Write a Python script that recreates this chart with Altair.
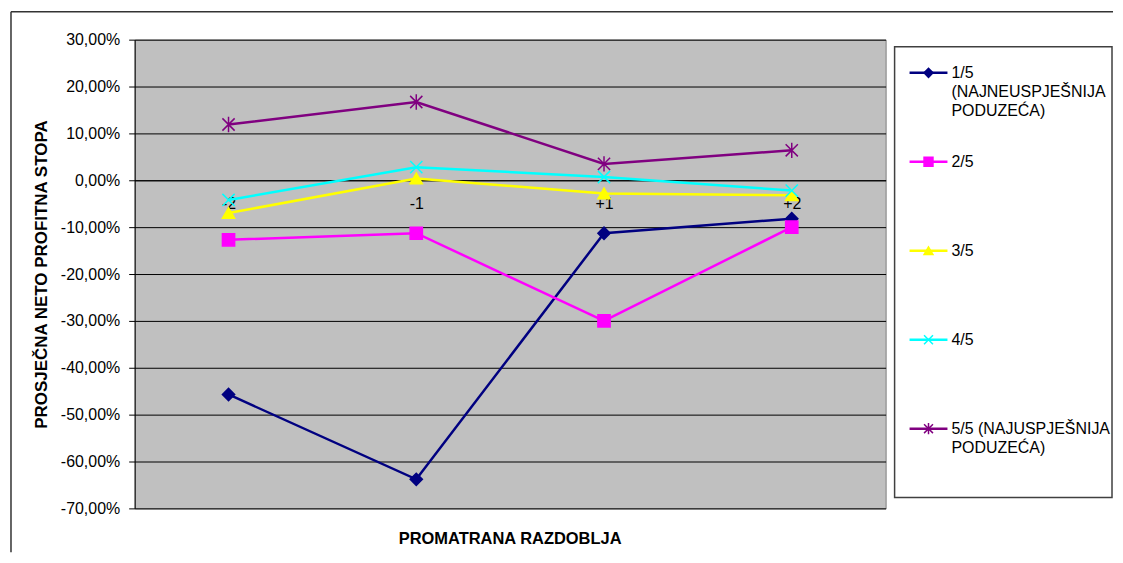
import altair as alt
import pandas as pd

periods = ["-2", "-1", "+1", "+2"]
series = ["1/5", "2/5", "3/5", "4/5", "5/5"]
legend_labels = [
    "1/5\n(NAJNEUSPJEŠNIJA\nPODUZEĆA)",
    "2/5",
    "3/5",
    "4/5",
    "5/5 (NAJUSPJEŠNIJA\nPODUZEĆA)",
]
s1 = [-0.457, -0.638, -0.113, -0.082]
s2 = [-0.127, -0.113, -0.300, -0.100]
s3 = [-0.070, 0.004, -0.028, -0.032]
s4 = [-0.042, 0.028, 0.007, -0.022]
s5 = [0.119, 0.167, 0.035, 0.064]
y_ticks = [0.3, 0.2, 0.1, 0.0, -0.1, -0.2, -0.3, -0.4, -0.5, -0.6, -0.7]
x_title = ["PROMATRANA RAZDOBLJA"]

colors = ["#000080", "#FF00FF", "#FFFF00", "#00FFFF", "#800080"]
fills = ["#000080", "#FF00FF", "#FFFF00", "transparent", "transparent"]
shapes = [
    "diamond",
    "square",
    "triangle-up",
    "M-1,-1L1,1M-1,1L1,-1",
    "M-1,-1L1,1M-1,1L1,-1M0,-1.25L0,1.25",
]

rows = []
for name, vals in zip(series, [s1, s2, s3, s4, s5]):
    for p, v in zip(periods, vals):
        rows.append({"series": name, "period": p, "value": v})
df = pd.DataFrame(rows)
leg_df = pd.DataFrame({"series": series, "label": legend_labels})
one = pd.DataFrame({"a": [0]})
title_df = pd.DataFrame({"t": x_title})

FONT = "Liberation Sans"
W, H = 753, 470

color_scale = alt.Scale(domain=series, range=colors)
fill_scale = alt.Scale(domain=series, range=fills)
shape_scale = alt.Scale(domain=series, range=shapes)

pct_expr = "(datum.value < -0.00001 ? '-' : '') + replace(format(abs(datum.value), '.2%'), '.', ',')"

x_enc = alt.X(
    "period:N",
    sort=periods,
    scale=alt.Scale(type="point", padding=0.5),
    axis=alt.Axis(
        title=None,
        orient="bottom",
        offset=-329,
        ticks=False,
        labelPadding=15,
        labelFont=FONT,
        labelFontSize=16,
        labelColor="black",
        labelAngle=0,
        domainColor="black",
        domainWidth=1,
        grid=False,
    ),
)
y_enc = alt.Y(
    "value:Q",
    scale=alt.Scale(domain=[-0.7, 0.3], nice=False, zero=False),
    axis=alt.Axis(
        values=y_ticks,
        labelExpr=pct_expr,
        title="PROSJEČNA NETO PROFITNA STOPA",
        titleFont=FONT,
        titleFontSize=17,
        titleFontWeight="bold",
        titleColor="black",
        titlePadding=10,
        labelFont=FONT,
        labelFontSize=16,
        labelColor="black",
        labelPadding=9,
        tickSize=6,
        tickColor="black",
        domainColor="black",
        gridColor="black",
        gridWidth=1,
        grid=True,
    ),
)

base = alt.Chart(df)
lines = base.mark_line(strokeWidth=2.5).encode(
    x=x_enc,
    y=y_enc,
    color=alt.Color("series:N", scale=color_scale, legend=None),
    detail="series:N",
)
points = base.mark_point(size=150, strokeWidth=1.5, opacity=1).encode(
    x=alt.X("period:N", sort=periods),
    y="value:Q",
    stroke=alt.Stroke("series:N", scale=color_scale, legend=None),
    fill=alt.Fill("series:N", scale=fill_scale, legend=None),
    shape=alt.Shape("series:N", scale=shape_scale, legend=None),
)
border_left = alt.Chart(one).mark_rule(color="#333333", strokeWidth=1.5).encode(
    x=alt.value(-124), y=alt.value(-28), y2=alt.value(514)
)
border_top = alt.Chart(one).mark_rule(color="#333333", strokeWidth=1.5).encode(
    x=alt.value(-124), x2=alt.value(981), y=alt.value(-28)
)
xtitle = alt.Chart(title_df).mark_text(
    font=FONT, fontSize=16.5, fontWeight="bold", color="black",
    align="center", baseline="middle",
).encode(x=alt.value(W / 2), y=alt.value(H + 31), text="t:N")

main = alt.layer(border_left, border_top, lines, points, xtitle).properties(
    width=W,
    height=H,
    view=alt.ViewBackground(fill="#C0C0C0", stroke="#808080", strokeWidth=1),
)

leg_y = alt.Y(
    "series:N",
    sort=series,
    scale=alt.Scale(type="point", padding=0.635, align=0.294),
    axis=None,
)
leg_box = alt.Chart(one).mark_rect(fill="white", stroke="#404040", strokeWidth=1.5).encode(
    x=alt.value(0), x2=alt.value(218), y=alt.value(7), y2=alt.value(459)
)
leg_base = alt.Chart(leg_df)
leg_rule = leg_base.mark_rule(strokeWidth=2.5).encode(
    x=alt.value(15),
    x2=alt.value(53),
    y=leg_y,
    color=alt.Color("series:N", scale=color_scale, legend=None),
)
leg_pt = leg_base.mark_point(size=80, strokeWidth=1.5, opacity=1).encode(
    x=alt.value(34),
    y=leg_y,
    stroke=alt.Stroke("series:N", scale=color_scale, legend=None),
    fill=alt.Fill("series:N", scale=fill_scale, legend=None),
    shape=alt.Shape("series:N", scale=shape_scale, legend=None),
)
leg_txt = leg_base.mark_text(
    align="left",
    baseline="top",
    dy=-8,
    lineBreak="\n",
    lineHeight=19,
    font=FONT,
    fontSize=16,
    color="black",
).encode(x=alt.value(57), y=leg_y, text="label:N")

legend = alt.layer(leg_box, leg_rule, leg_pt, leg_txt).properties(
    width=218, height=H, view=alt.ViewBackground(stroke=None, fill=None)
)

chart = (
    alt.hconcat(main, legend, spacing=9, bounds="flush")
    .properties(padding={"left": 1, "top": 1, "right": 0, "bottom": 0}, background="white")
    .configure(font=FONT)
    .configure_view(stroke=None)
)

chart.save("out.html", embed_options={"renderer": "svg", "actions": False})
